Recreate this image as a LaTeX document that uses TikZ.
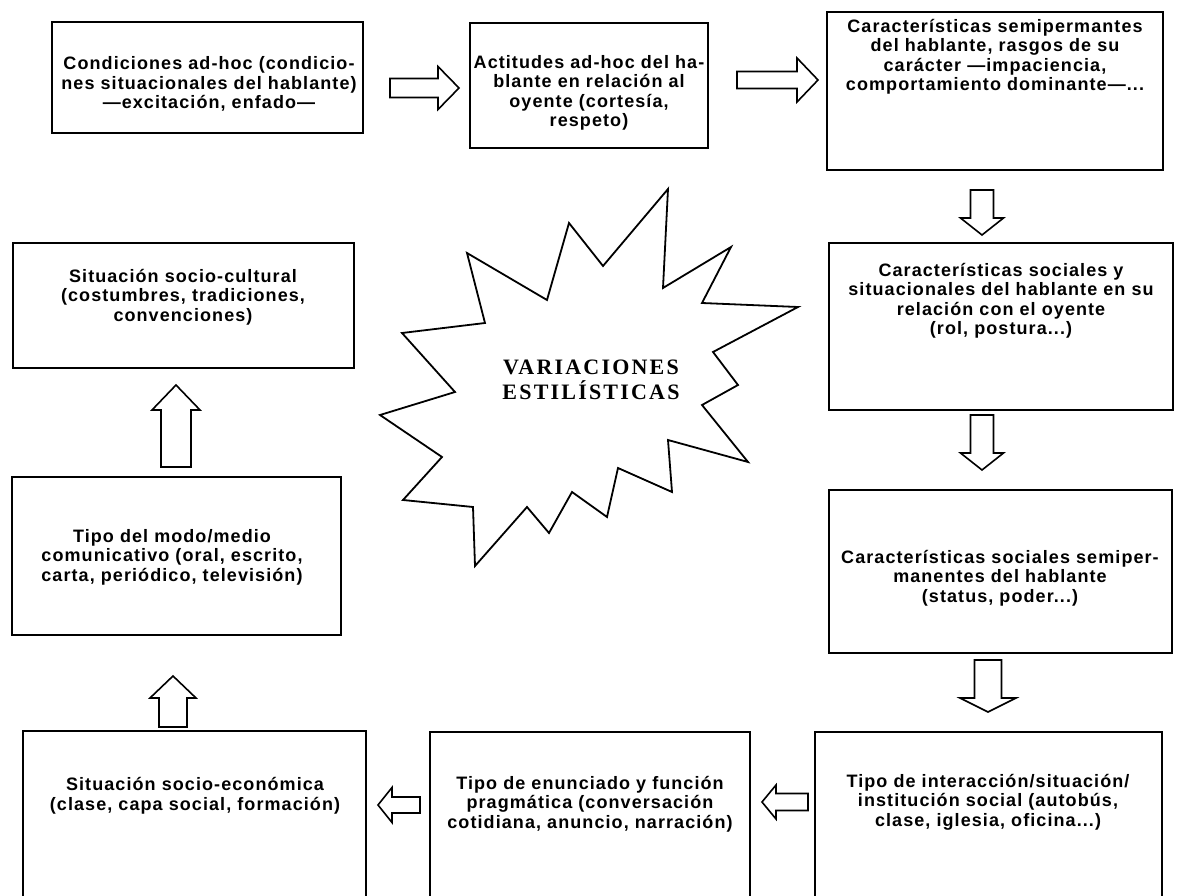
\documentclass[tikz,border=0pt]{standalone}
\usepackage{fontspec}
\setmainfont{Liberation Sans}
\newfontfamily\cajafont[LetterSpace=6]{Liberation Sans}
\newfontfamily\starfont[LetterSpace=10]{Liberation Serif}
\tikzset{
  caja/.style={draw, line width=1.6pt, rectangle, inner sep=0pt},
  txt/.style={align=center, inner sep=0pt, font=\cajafont\bfseries\fontsize{18}{19.5}\selectfont},
  bloque/.style={draw, line width=1.6pt, line join=miter, fill=white},
  estrella/.style={draw, line width=1.8pt, line join=miter},
  titulo/.style={align=center, inner sep=0pt, font=\starfont\bfseries\fontsize{22}{25}\selectfont},
}
% #1 tail, #2 angle, #3 length, #4 shaft half, #5 head half, #6 head length
\newcommand{\flecha}[6]{%
  \begin{scope}[shift={(#1)}, rotate=#2]
    \draw[bloque] (0,-#4) -- ({#3-#6},-#4) -- ({#3-#6},-#5) -- (#3,0)
      -- ({#3-#6},#5) -- ({#3-#6},#4) -- (0,#4) -- cycle;
  \end{scope}}

\begin{document}
\begin{tikzpicture}[x=1pt, y=-1pt]
  \useasboundingbox (0,0) rectangle (1179,896);
  % cajas
  \node[caja, minimum width=311pt, minimum height=111pt] (cond) at (207.5,77.5) {};
  \node[caja, minimum width=238pt, minimum height=125pt] (acti) at (589,85.5) {};
  \node[caja, minimum width=336pt, minimum height=158pt] (carac) at (995,91) {};
  \node[caja, minimum width=344pt, minimum height=167pt] (soc) at (1001,326.5) {};
  \node[caja, minimum width=343pt, minimum height=163pt] (semi) at (1000.5,571.5) {};
  \node[caja, minimum width=347pt, minimum height=168pt] (inter) at (988.5,816) {};
  \node[caja, minimum width=320pt, minimum height=168pt] (enun) at (590,816) {};
  \node[caja, minimum width=343pt, minimum height=169pt] (econ) at (194.5,815.5) {};
  \node[caja, minimum width=329pt, minimum height=158pt] (modo) at (176.5,556) {};
  \node[caja, minimum width=341pt, minimum height=125pt] (cult) at (183.5,305.5) {};
  % textos
  \node[txt] (cond-t) at (209,84) {Condiciones ad-hoc (condicio-\\nes situacionales del hablante)\\—excitación, enfado—};
  \node[txt] (acti-t) at (589,93) {Actitudes ad-hoc del ha-\\blante en relación al\\oyente (cortesía,\\respeto)};
  \node[txt] (carac-t) at (995,57) {Características semipermantes\\del hablante, rasgos de su\\carácter —impaciencia,\\comportamiento dominante—...};
  \node[txt] (soc-t) at (1001,301) {Características sociales y\\situacionales del hablante en su\\relación con el oyente\\(rol, postura...)};
  \node[txt] (semi-t) at (1000,578) {Características sociales semiper-\\manentes del hablante\\(status, poder...)};
  \node[txt] (inter-t) at (988,802) {Tipo de interacción/situación/\\institución social (autobús,\\clase, iglesia, oficina...)};
  \node[txt] (enun-t) at (590,804) {Tipo de enunciado y función\\pragmática (conversación\\cotidiana, anuncio, narración)};
  \node[txt] (econ-t) at (195,796) {Situación socio-económica\\(clase, capa social, formación)};
  \node[txt] (modo-t) at (172,557) {Tipo del modo/medio\\comunicativo (oral, escrito,\\carta, periódico, televisión)};
  \node[txt] (cult-t) at (183,297) {Situación socio-cultural\\(costumbres, tradiciones,\\convenciones)};
  % estrella
  \draw[estrella] (668,189) -- (663,288) -- (731,247) -- (702,303) -- (798,307)
    -- (713,352) -- (738,385) -- (702,405) -- (748,462) -- (668,440)
    -- (672,492) -- (618,468) -- (607,517) -- (572,492) -- (549,533)
    -- (527,507) -- (475,566) -- (473,507) -- (403,500) -- (442,457)
    -- (380,415) -- (455,392) -- (402,333) -- (485,323) -- (467,253)
    -- (547,300) -- (569,223) -- (603,266) -- cycle;
  \node[titulo] (var) at (591,380) {VARIACIONES\\ESTILÍSTICAS};
  % flechas
  \coordinate (a12) at (390,88);
  \coordinate (a23) at (737,80);
  \coordinate (a34) at (982,190);
  \coordinate (a45) at (982,415);
  \coordinate (a56) at (988,660);
  \coordinate (a67) at (808,802);
  \coordinate (a78) at (420,805);
  \coordinate (a89) at (173,727);
  \coordinate (a910) at (176,467);
  \flecha{a12}{0}{69}{9.5}{21.5}{21}
  \flecha{a23}{0}{81}{8.5}{22}{21}
  \flecha{a34}{-90}{45}{11.5}{21.5}{17}
  \flecha{a45}{-90}{55}{11.5}{21.5}{17}
  \flecha{a56}{-90}{52}{13.5}{28}{14}
  \flecha{a67}{180}{46}{8.5}{17}{14}
  \flecha{a78}{180}{42}{8}{17.5}{14}
  \flecha{a89}{90}{51}{14}{23}{22}
  \flecha{a910}{90}{82}{15}{24}{25}
\end{tikzpicture}
\end{document}
